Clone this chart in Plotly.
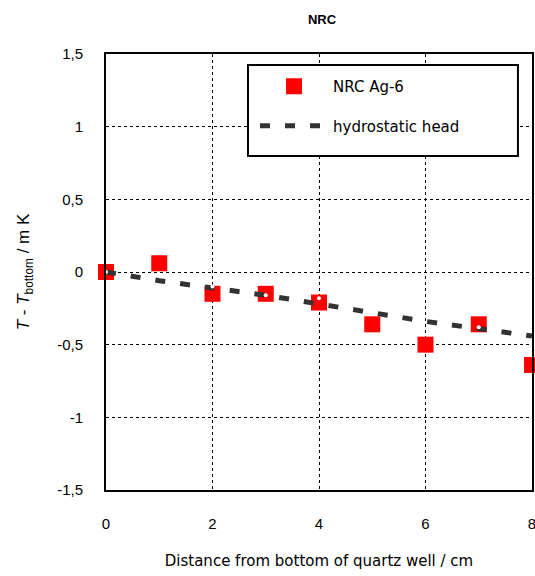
import plotly.graph_objects as go

# data
distance = [0, 1, 2, 3, 4, 5, 6, 7, 8]
nrc_ag6 = [0.0, 0.06, -0.15, -0.15, -0.21, -0.36, -0.5, -0.36, -0.64]
hydro_x = [0, 1, 2, 3, 4, 5, 6, 7, 8]
hydro_y = [0.0, -0.06, -0.11, -0.16, -0.22, -0.28, -0.34, -0.39, -0.44]
dots_x = [0, 2, 3, 4, 7]
dots_y = [0.0, -0.1, -0.16, -0.18, -0.38]
y_ticks = [-1.5, -1, -0.5, 0, 0.5, 1, 1.5]
y_tick_labels = ["-1,5", "-1", "-0,5", "0", "0,5", "1", "1,5"]
x_ticks = [0, 2, 4, 6, 8]
x_tick_labels = ["0", "2", "4", "6", "8"]

FONT = "Arial, Liberation Sans, sans-serif"
WIDE = "DejaVu Sans, Arial, sans-serif"

fig = go.Figure()
fig.add_trace(go.Scatter(
    x=distance, y=nrc_ag6, mode="markers", name="NRC Ag-6",
    legendgroup="a",
    marker=dict(symbol="square", size=16, color="#ff0000",
                line=dict(width=0)),
    cliponaxis=False,
))
fig.add_trace(go.Scatter(
    x=hydro_x, y=hydro_y, mode="lines", name="hydrostatic head",
    legendgroup="b",
    line=dict(color="#333333", width=5, dash="10px,15px"),
))
fig.add_trace(go.Scatter(
    x=dots_x, y=dots_y, mode="markers", showlegend=False,
    marker=dict(size=4, color="white"), cliponaxis=False,
))

# legend frame (opaque white box with black border)
fig.add_shape(type="rect", xref="paper", yref="paper",
              x0=0.3333, x1=0.967, y0=0.766, y1=0.9748,
              line=dict(color="black", width=2), fillcolor="white",
              layer="above")

fig.update_layout(
    width=535, height=576,
    margin=dict(l=106, r=3, t=54, b=86, autoexpand=False),
    paper_bgcolor="white", plot_bgcolor="white",
    font=dict(family=FONT, size=15, color="black"),
    title=dict(text="<b>NRC</b>", x=0.602, xanchor="center", y=0.966,
               yanchor="middle", font=dict(size=13, family=FONT),
               automargin=False),
    showlegend=True,
    legend=dict(x=(255 - 106) / 426, y=1 - (70 - 54) / 436,
                xanchor="left", yanchor="top",
                borderwidth=0, bgcolor="rgba(0,0,0,0)",
                font=dict(size=15, family=WIDE), itemwidth=68,
                tracegroupgap=17, itemclick=False),
    xaxis=dict(range=[0, 8], tickvals=x_ticks, ticktext=x_tick_labels,
               showgrid=True, gridcolor="black", griddash="dot", gridwidth=1,
               showline=True, linecolor="black", linewidth=2, mirror=True,
               ticks="", ticklabelstandoff=19, zeroline=False, automargin=False,
               ticklabeloverflow="allow",
               title=dict(text="Distance from bottom of quartz well / cm",
                          standoff=24, font=dict(size=15, family=WIDE))),
    yaxis=dict(range=[-1.5, 1.5], tickvals=y_ticks, ticktext=y_tick_labels,
               showgrid=True, gridcolor="black", griddash="dot", gridwidth=1,
               showline=True, linecolor="black", linewidth=2, mirror=True,
               ticks="", ticklabelstandoff=18, zeroline=False, automargin=False,
               title=dict(text="<i>T</i> - <i>T</i><sub>bottom</sub> / m K",
                          standoff=23, font=dict(size=17, family=FONT))),
)

fig.write_html(
    "out.html",
    config={"displayModeBar": False},
    post_script="document.body.style.margin='0';document.body.style.overflow='hidden';",
)
